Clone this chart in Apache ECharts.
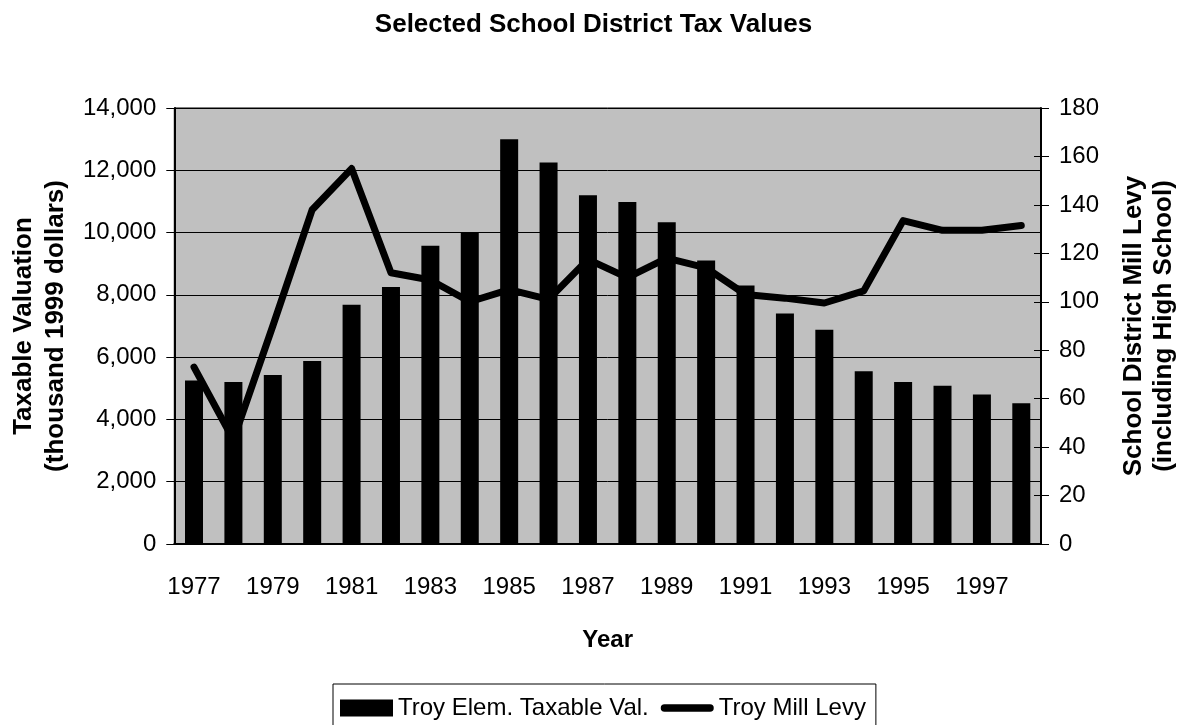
<!DOCTYPE html>
<html>
<head>
<meta charset="utf-8">
<script src="https://cdn.jsdelivr.net/npm/echarts@6/dist/echarts.min.js"></script>
<style>
  html, body { margin: 0; padding: 0; background: #fff; }
  #chart { width: 1187px; height: 725px; }
</style>
</head>
<body>
<div id="chart"></div>
<script>
const years = ['1977','1978','1979','1980','1981','1982','1983','1984','1985','1986','1987',
  '1988','1989','1990','1991','1992','1993','1994','1995','1996','1997','1998']
const taxableVal = [5250, 5200, 5430, 5880, 7680, 8250, 9580, 10000, 13000, 12250, 11200,
  10980, 10330, 9100, 8300, 7400, 6880, 5550, 5200, 5080, 4800, 4520]
const millLevy = [73, 43, 90, 138, 155, 112, 109, 100, 105, 101, 117.5,
  110, 118, 114, 103, 101.5, 99.5, 104.5, 133.5, 129.5, 129.5, 131.5]

const chart = echarts.init(document.getElementById('chart'))
const font = 'Liberation Sans'
const tickStyle = { color: '#000', width: 1 }

// a second copy of each axis draws only inside ticks, so the ticks cross the axis line
const ghostX = {
  type: 'category', data: years, position: 'bottom',
  axisLine: { show: false }, axisLabel: { show: false },
  axisTick: { inside: true, length: 7, lineStyle: tickStyle }
}
const ghostY = (min, max, interval, pos) => ({
  type: 'value', min: min, max: max, interval: interval, position: pos,
  axisLine: { show: false }, axisLabel: { show: false }, splitLine: { show: false },
  axisTick: { show: true, inside: true, length: 7, lineStyle: tickStyle }
})

const option = {
  animation: false,
  textStyle: { fontFamily: font },
  title: {
    text: 'Selected School District Tax Values',
    left: 'center',
    top: 7,
    textStyle: { fontFamily: font, fontSize: 26, fontWeight: 'bold', color: '#000' }
  },
  legend: {
    left: 333,
    top: 684,
    padding: [12, 10, 12, 7],
    itemGap: 12,
    itemWidth: 53,
    itemHeight: 17,
    borderColor: '#000',
    borderWidth: 1,
    textStyle: { fontFamily: font, fontSize: 24, color: '#000' },
    data: [
      { name: 'Troy Elem. Taxable Val.', icon: 'rect' },
      { name: 'Troy Mill Levy', icon: 'path://M4,0 L53,0 A4,4 0 0 1 53,8 L4,8 A4,4 0 0 1 4,0 Z' }
    ]
  },
  grid: {
    left: 173,
    right: 142,
    top: 108,
    bottom: 181,
    show: true,
    backgroundColor: '#c0c0c0',
    borderColor: '#000',
    borderWidth: 1
  },
  xAxis: [
    {
      type: 'category',
      data: years,
      position: 'bottom',
      name: 'Year',
      nameLocation: 'middle',
      nameGap: 84,
      nameTextStyle: { fontFamily: font, fontSize: 24, fontWeight: 'bold', color: '#000' },
      axisLine: { lineStyle: { color: '#000', width: 2 } },
      axisTick: { length: 8, lineStyle: tickStyle },
      axisLabel: { interval: 1, margin: 31, fontFamily: font, fontSize: 24, color: '#000' }
    },
    ghostX
  ],
  yAxis: [
    {
      type: 'value',
      min: 0,
      max: 14000,
      interval: 2000,
      position: 'left',
      name: 'Taxable Valuation\n(thousand 1999 dollars)',
      nameLocation: 'middle',
      nameRotate: 90,
      nameGap: 100,
      nameTextStyle: { fontFamily: font, fontSize: 26, fontWeight: 'bold', color: '#000', lineHeight: 32 },
      axisLine: { show: true, lineStyle: { color: '#000', width: 2 } },
      axisTick: { show: true, length: 8, lineStyle: tickStyle },
      axisLabel: {
        margin: 18,
        fontFamily: font,
        fontSize: 24,
        color: '#000',
        formatter: v => v.toLocaleString('en-US')
      },
      splitLine: { show: true, lineStyle: { color: '#000', width: 1 } }
    },
    {
      type: 'value',
      min: 0,
      max: 180,
      interval: 20,
      position: 'right',
      name: 'School District Mill Levy\n(including High School)',
      nameLocation: 'middle',
      nameRotate: 90,
      nameGap: 78,
      nameTextStyle: { fontFamily: font, fontSize: 26, fontWeight: 'bold', color: '#000', lineHeight: 30 },
      axisLine: { show: true, lineStyle: { color: '#000', width: 2 } },
      axisTick: { show: true, length: 8, lineStyle: tickStyle },
      axisLabel: { margin: 18, fontFamily: font, fontSize: 24, color: '#000' },
      splitLine: { show: false }
    },
    ghostY(0, 14000, 2000, 'left'),
    ghostY(0, 180, 20, 'right')
  ],
  series: [
    {
      name: 'Troy Elem. Taxable Val.',
      type: 'bar',
      xAxisIndex: 0,
      yAxisIndex: 0,
      barWidth: 18,
      data: taxableVal,
      itemStyle: { color: '#000' }
    },
    {
      name: 'Troy Mill Levy',
      type: 'line',
      xAxisIndex: 0,
      yAxisIndex: 1,
      symbol: 'none',
      data: millLevy,
      lineStyle: { color: '#000', width: 7, cap: 'round', join: 'round' },
      itemStyle: { color: '#000' }
    }
  ]
}
option && chart.setOption(option)
window.addEventListener('resize', () => {
  chart.resize()
})
</script>
</body>
</html>
